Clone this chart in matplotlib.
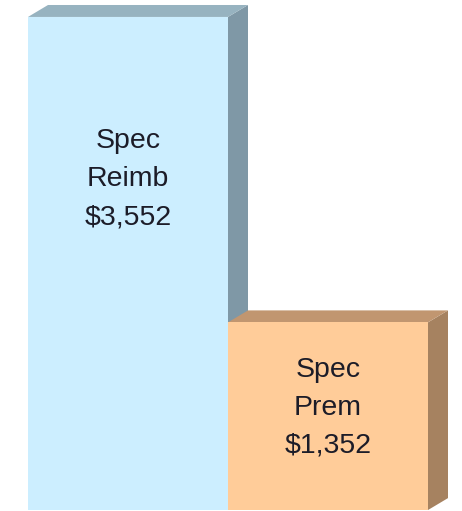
import matplotlib
matplotlib.use("Agg")
import matplotlib.pyplot as plt
from matplotlib.patches import Polygon

# data
labels = ["Spec\nReimb", "Spec\nPrem"]
values = [3552, 1352]

# looks
front_colors = ["#cceeff", "#ffcc99"]
top_colors = ["#97b3c0", "#c19670"]
side_colors = ["#7f98a6", "#a68260"]
text_pos = [0.671, 0.545]   # label centre as fraction of bar height

fig = plt.figure(figsize=(4.62, 5.11), dpi=100)
ax = fig.add_axes([0, 0, 1, 1])
ax.set_xlim(-0.14, 2.17)
ax.set_ylim(-7, 3674)
ax.axis("off")

w = 1.0
dx = 0.1      # depth in x units
dy = 86       # depth in y units

for i, v in enumerate(values):
    x0 = i * w
    x1 = x0 + w
    front = Polygon([(x0, 0), (x1, 0), (x1, v), (x0, v)], closed=True,
                    facecolor=front_colors[i], edgecolor="none")
    top = Polygon([(x0, v), (x1, v), (x1 + dx, v + dy), (x0 + dx, v + dy)],
                  closed=True, facecolor=top_colors[i], edgecolor="none")
    side = Polygon([(x1, 0), (x1 + dx, dy), (x1 + dx, v + dy), (x1, v)],
                   closed=True, facecolor=side_colors[i], edgecolor="none")
    ax.add_patch(side)
    ax.add_patch(top)
    ax.add_patch(front)
    ax.text(x0 + w / 2, v * text_pos[i], f"{labels[i]}\n${v:,}",
            ha="center", va="center", fontsize=20.5, family="Liberation Sans",
            color="#1c1c28", linespacing=1.6)

fig.savefig("out.png", dpi=100)
